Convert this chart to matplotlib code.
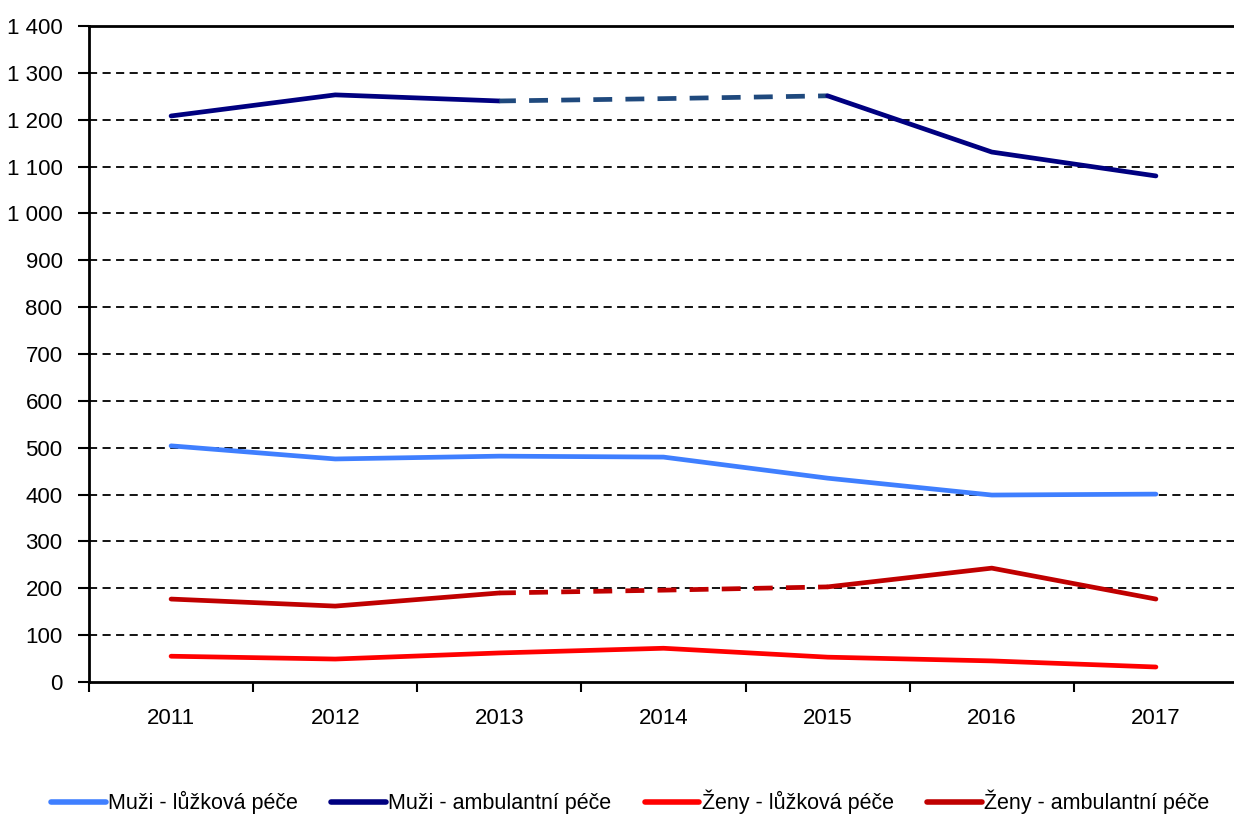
import matplotlib
matplotlib.use("Agg")
import matplotlib.pyplot as plt
from matplotlib.lines import Line2D
from matplotlib import font_manager

years = ["2011", "2012", "2013", "2014", "2015", "2016", "2017"]
muzi_luzkova = [504, 476, 482, 480, 435, 399, 401]
muzi_ambulantni = [1208, 1253, 1240, 1245, 1251, 1131, 1080]
zeny_luzkova = [55, 49, 62, 72, 53, 45, 32]
zeny_ambulantni = [177, 162, 190, 196, 203, 243, 177]
labels = ["Muži - lůžková péče", "Muži - ambulantní péče", "Ženy - lůžková péče", "Ženy - ambulantní péče"]
yticks = list(range(0, 1401, 100))

names = {f.name for f in font_manager.fontManager.ttflist}
fam = "Liberation Sans Narrow" if "Liberation Sans Narrow" in names else "Liberation Sans"
plt.rcParams["font.family"] = [fam, "DejaVu Sans"]

fig = plt.figure(figsize=(12.34, 8.16), dpi=100)
ax = fig.add_axes([89/1234, 1 - 682/816, (1238 - 89)/1234, (682 - 26)/816])

x = list(range(len(years)))
lw = 3.4
c_ml = "#3F7FFF"
c_ma = "#000080"
c_zl = "#FF0000"
c_za = "#C00000"
dash = (0.5, (4.0, 2.8))

ax.plot(x, muzi_luzkova, color=c_ml, lw=lw, solid_capstyle="round", zorder=3)
ax.plot(x, zeny_luzkova, color=c_zl, lw=lw, solid_capstyle="round", zorder=3)
# Muži ambulantní: solid, dashed (2013-2015), solid
ax.plot(x[:3], muzi_ambulantni[:3], color=c_ma, lw=lw, solid_capstyle="round", zorder=3)
ax.plot(x[2:5], muzi_ambulantni[2:5], color="#1F497D", lw=lw, ls=dash, dash_capstyle="butt", zorder=3)
ax.plot(x[4:], muzi_ambulantni[4:], color=c_ma, lw=lw, solid_capstyle="round", zorder=3)
# Ženy ambulantní
ax.plot(x[:3], zeny_ambulantni[:3], color=c_za, lw=lw, solid_capstyle="round", zorder=3)
ax.plot(x[2:5], zeny_ambulantni[2:5], color=c_za, lw=lw, ls=dash, dash_capstyle="butt", zorder=3)
ax.plot(x[4:], zeny_ambulantni[4:], color=c_za, lw=lw, solid_capstyle="round", zorder=3)

ax.set_xlim(-0.5, len(years) - 0.5)
ax.set_ylim(0, 1400)
ax.set_yticks(yticks)
ax.set_yticklabels([f"{v:,}".replace(",", " ") for v in yticks])
ax.set_xticks([i - 0.5 for i in range(len(years) + 1)])
ax.set_xticklabels([])
ax.set_xticks(x, minor=True)
ax.set_xticklabels(years, minor=True)
ax.tick_params(axis="x", which="minor", length=0, pad=19, labelsize=16)
ax.tick_params(axis="x", which="major", direction="out", length=7, width=1.5)
ax.tick_params(axis="y", direction="out", length=8, width=1.5, labelsize=16, pad=11)

for v in yticks[1:-1]:
    ax.axhline(v, color="black", lw=1.3, ls=(0, (4.5, 3)), zorder=1)

for s in ["left", "bottom", "top"]:
    ax.spines[s].set_linewidth(2)
ax.spines["right"].set_visible(False)

handles = [Line2D([], [], color=c, lw=4, solid_capstyle="round") for c in [c_ml, c_ma, c_zl, c_za]]
fig.legend(handles, labels, loc="center", bbox_to_anchor=(630/1234, 1 - 802/816), ncol=4,
           frameon=False, fontsize=15.5, handlelength=2.55, handletextpad=0.1, columnspacing=1.55)

fig.savefig("out.png", dpi=100)
